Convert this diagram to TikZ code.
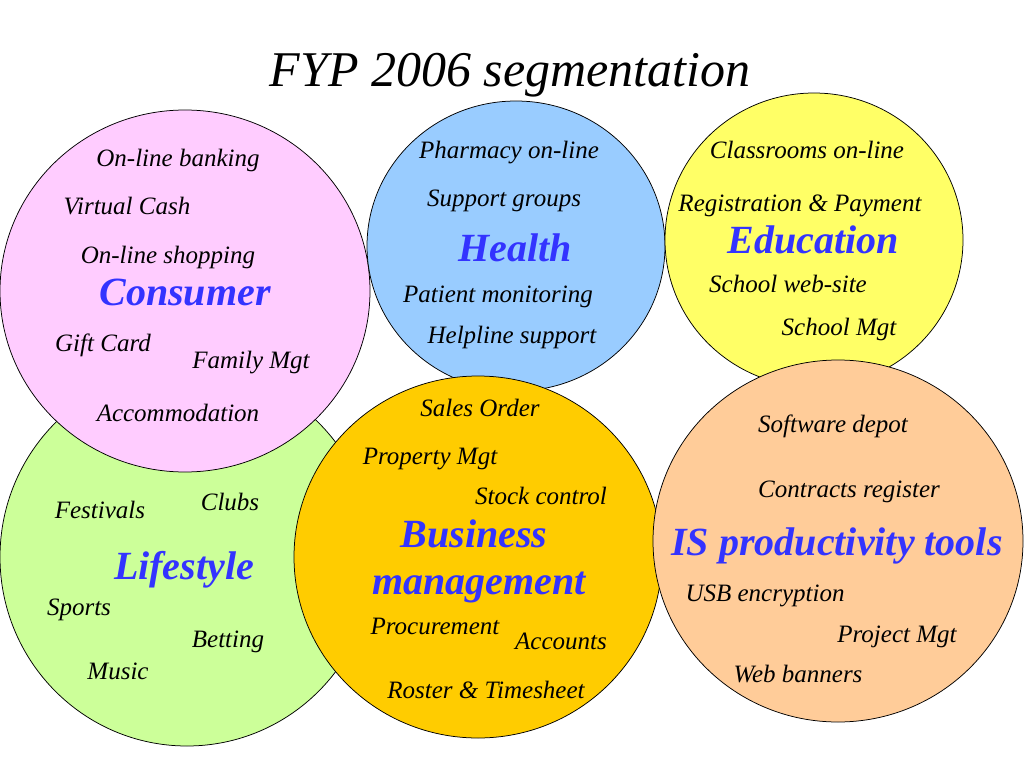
\documentclass[tikz,border=0pt]{standalone}
\usepackage{fontspec}
\setmainfont{Liberation Serif}
\usetikzlibrary{shapes.geometric}
\definecolor{pinkzone}{HTML}{FFCCFF}
\definecolor{greenzone}{HTML}{CCFF99}
\definecolor{bluezone}{HTML}{99CCFF}
\definecolor{yellowzone}{HTML}{FFFF66}
\definecolor{orangezone}{HTML}{FFCC00}
\definecolor{peachzone}{HTML}{FFCC99}
\definecolor{segblue}{HTML}{3333FF}
\tikzstyle{zone} = [ellipse, draw=black, line width=0.75bp, inner sep=0pt]
\tikzstyle{item} = [anchor=base, inner sep=0pt, font=\fontsize{25bp}{30bp}\selectfont\itshape]
\tikzstyle{segment} = [anchor=base, inner sep=0pt, text=segblue, font=\fontsize{40bp}{46bp}\selectfont\bfseries\itshape]
\tikzstyle{heading} = [anchor=base, inner sep=0pt, font=\fontsize{50bp}{56bp}\selectfont\itshape]

\begin{document}
\begin{tikzpicture}[x=1bp, y=-1bp]

			\fill[white] (0,0) rectangle (1024,768);
			\useasboundingbox (0,0) rectangle (1024,768);

			\node (title) [heading] at (510,87) {FYP 2006 segmentation};

			\node (lifestyleZone) [zone, fill=greenzone, minimum width=374bp, minimum height=378bp] at (187,557) {};
			\node (consumerZone) [zone, fill=pinkzone, minimum width=370bp, minimum height=362bp] at (185,291) {};
			\node (healthZone) [zone, fill=bluezone, minimum width=298bp, minimum height=290bp] at (516,246) {};
			\node (businessZone) [zone, fill=orangezone, minimum width=368bp, minimum height=362bp] at (478,557) {};
			\node (educationZone) [zone, fill=yellowzone, minimum width=298bp, minimum height=294bp] at (814,240) {};
			\node (isZone) [zone, fill=peachzone, minimum width=370bp, minimum height=362bp] at (838,541) {};

			\node (banking) [item] at (178,166) {On-line banking};
			\node (cash) [item] at (127,214) {Virtual Cash};
			\node (shopping) [item] at (168,263) {On-line shopping};
			\node (consumer) [segment] at (185,305) {Consumer};
			\node (gift) [item] at (103,351) {Gift Card};
			\node (family) [item] at (251,368) {Family Mgt};
			\node (accommodation) [item] at (178,421) {Accommodation};

			\node (festivals) [item] at (100,518) {Festivals};
			\node (clubs) [item] at (230,510) {Clubs};
			\node (lifestyle) [segment] at (184,579) {Lifestyle};
			\node (sports) [item] at (79,615) {Sports};
			\node (betting) [item] at (228,647) {Betting};
			\node (music) [item] at (118,679) {Music};

			\node (pharmacy) [item] at (509,158) {Pharmacy on-line};
			\node (groups) [item] at (504,206) {Support groups};
			\node (health) [segment] at (515,261) {Health};
			\node (patient) [item] at (498,302) {Patient monitoring};
			\node (helpline) [item] at (512,343) {Helpline support};

			\node (classrooms) [item] at (807,158) {Classrooms on-line};
			\node (registration) [item] at (800,211) {Registration \& Payment};
			\node (education) [segment] at (813,253) {Education};
			\node (website) [item] at (788,292) {School web-site};
			\node (schoolmgt) [item] at (839,335) {School Mgt};

			\node (sales) [item] at (480,416) {Sales Order};
			\node (property) [item] at (430,464) {Property Mgt};
			\node (stock) [item] at (541,504) {Stock control};
			\node (business) [segment] at (474,547) {Business};
			\node (management) [segment] at (479,594) {management};
			\node (procurement) [item] at (435,634) {Procurement};
			\node (accounts) [item] at (561,649) {Accounts};
			\node (roster) [item] at (486,698) {Roster \& Timesheet};

			\node (depot) [item] at (833,432) {Software depot};
			\node (contracts) [item] at (849,497) {Contracts register};
			\node (istools) [segment] at (837,555) {IS productivity tools};
			\node (usb) [item] at (765,601) {USB encryption};
			\node (project) [item] at (897,642) {Project Mgt};
			\node (banners) [item] at (798,682) {Web banners};

\end{tikzpicture}
\end{document}
